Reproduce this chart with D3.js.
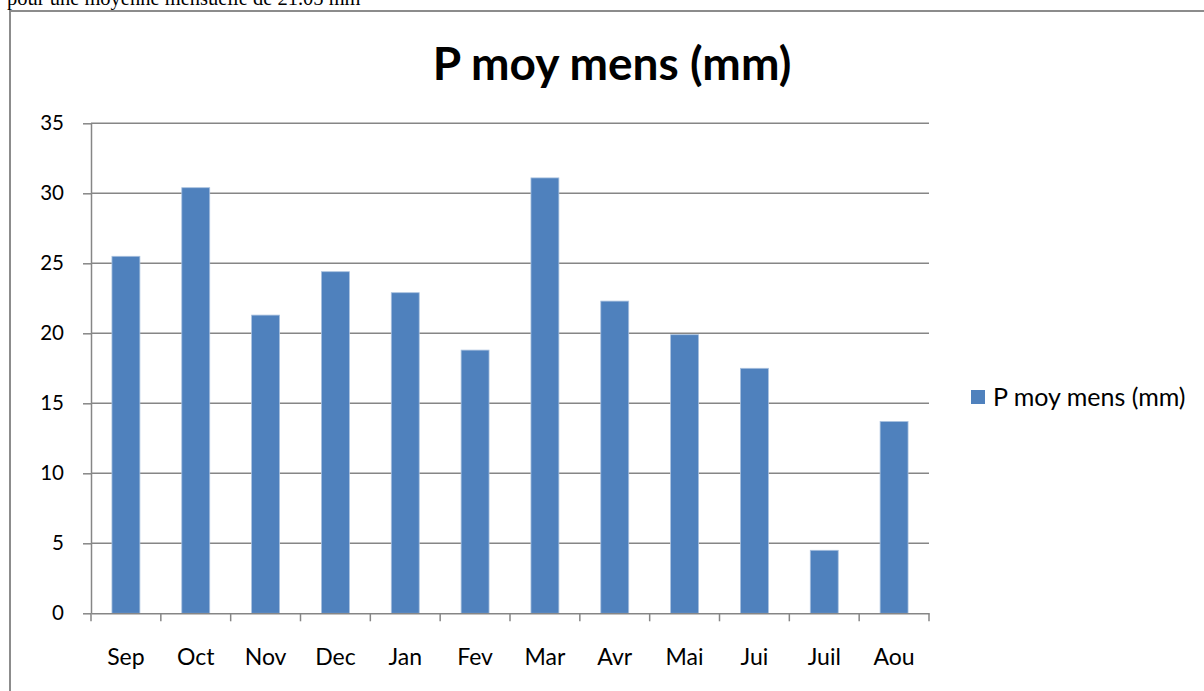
<!DOCTYPE html>
<html><head><meta charset="utf-8">
<script src="https://cdn.jsdelivr.net/npm/d3@7"></script>
<style>html,body{margin:0;padding:0;background:#fff;overflow:hidden}</style>
</head><body>
<script>
const categories = ["Sep","Oct","Nov","Dec","Jan","Fev","Mar","Avr","Mai","Jui","Juil","Aou"];
const values = [25.5, 30.4, 21.3, 24.4, 22.9, 18.8, 31.1, 22.3, 19.9, 17.5, 4.5, 13.7];
const yTicks = [0,5,10,15,20,25,30,35];
const seriesName = "P moy mens (mm)";
const titleText = "P moy mens (mm)";
const introText = "pour une moyenne mensuelle de 21.05 mm";

const W = 1204, H = 691;
const svg = d3.select("body").append("svg").attr("width", W).attr("height", H);
const grey = "#868686";
const font = "Lato, 'Open Sans', sans-serif";

// cut-off document text
svg.append("text").attr("x", 7).attr("y", 5).attr("font-family", "'Liberation Serif', 'Times New Roman', serif")
  .attr("font-size", 20.5).attr("fill", "#000").text(introText);

// chart frame
svg.append("path").attr("d", `M10,${H+5} L10,11 L${W+5},11`).attr("fill", "none")
  .attr("stroke", "#8c8c8c").attr("stroke-width", 2);

const pLeft = 91, pRight = 929, pTop = 123.3, pBottom = 613.3;
const x = d3.scaleBand().domain(categories).range([pLeft, pRight]).padding(0);
const y = d3.scaleLinear().domain([0, 35]).range([pBottom, pTop]);

// gridlines
svg.append("g").selectAll("line").data(yTicks.filter(d => d > 0)).join("line")
  .attr("x1", pLeft).attr("x2", pRight).attr("y1", d => y(d)).attr("y2", d => y(d))
  .attr("stroke", grey).attr("stroke-width", 1.5);

// y axis
const yAxis = svg.append("g").attr("transform", `translate(${pLeft},0)`)
  .call(d3.axisLeft(y).tickValues(yTicks).tickSize(8).tickSizeOuter(0).tickPadding(19));
yAxis.select(".domain").attr("stroke", grey).attr("stroke-width", 1.5);
yAxis.selectAll(".tick line").attr("stroke", grey).attr("stroke-width", 1.5);
yAxis.selectAll(".tick text").attr("font-family", font).attr("font-size", 20.5).attr("fill", "#000");

// bars
const bw = x.bandwidth() * 0.4;
svg.append("g").selectAll("rect").data(values).join("rect")
  .attr("x", (d, i) => x(categories[i]) + (x.bandwidth() - bw) / 2)
  .attr("y", d => y(d)).attr("width", bw).attr("height", d => pBottom - y(d))
  .attr("fill", "#4F81BD").attr("stroke", "#a9c1df").attr("stroke-width", 0.8);

// x axis
const xAxis = svg.append("g").attr("transform", `translate(0,${pBottom})`)
  .call(d3.axisBottom(x).tickSize(0).tickPadding(35).tickSizeOuter(0));
xAxis.select(".domain").attr("stroke", grey).attr("stroke-width", 1.5);
xAxis.selectAll(".tick text").attr("font-family", font).attr("font-size", 23).attr("fill", "#000");
const bounds = categories.map(c => x(c)).concat([pRight]);
svg.append("g").selectAll("line").data(bounds).join("line")
  .attr("x1", d => d).attr("x2", d => d).attr("y1", pBottom).attr("y2", pBottom + 8)
  .attr("stroke", grey).attr("stroke-width", 1.5);

// title
svg.append("text").attr("x", 612).attr("y", 80).attr("text-anchor", "middle")
  .attr("font-family", font).attr("font-weight", "bold").attr("font-size", 46).attr("fill", "#000")
  .text(titleText);

// legend
const lg = svg.append("g").attr("transform", "translate(971,390)");
lg.append("rect").attr("width", 14).attr("height", 14).attr("fill", "#4F81BD");
lg.append("text").attr("x", 22).attr("y", 16).attr("font-family", font).attr("font-size", 25)
  .attr("fill", "#000").text(seriesName);
</script>
</body></html>
